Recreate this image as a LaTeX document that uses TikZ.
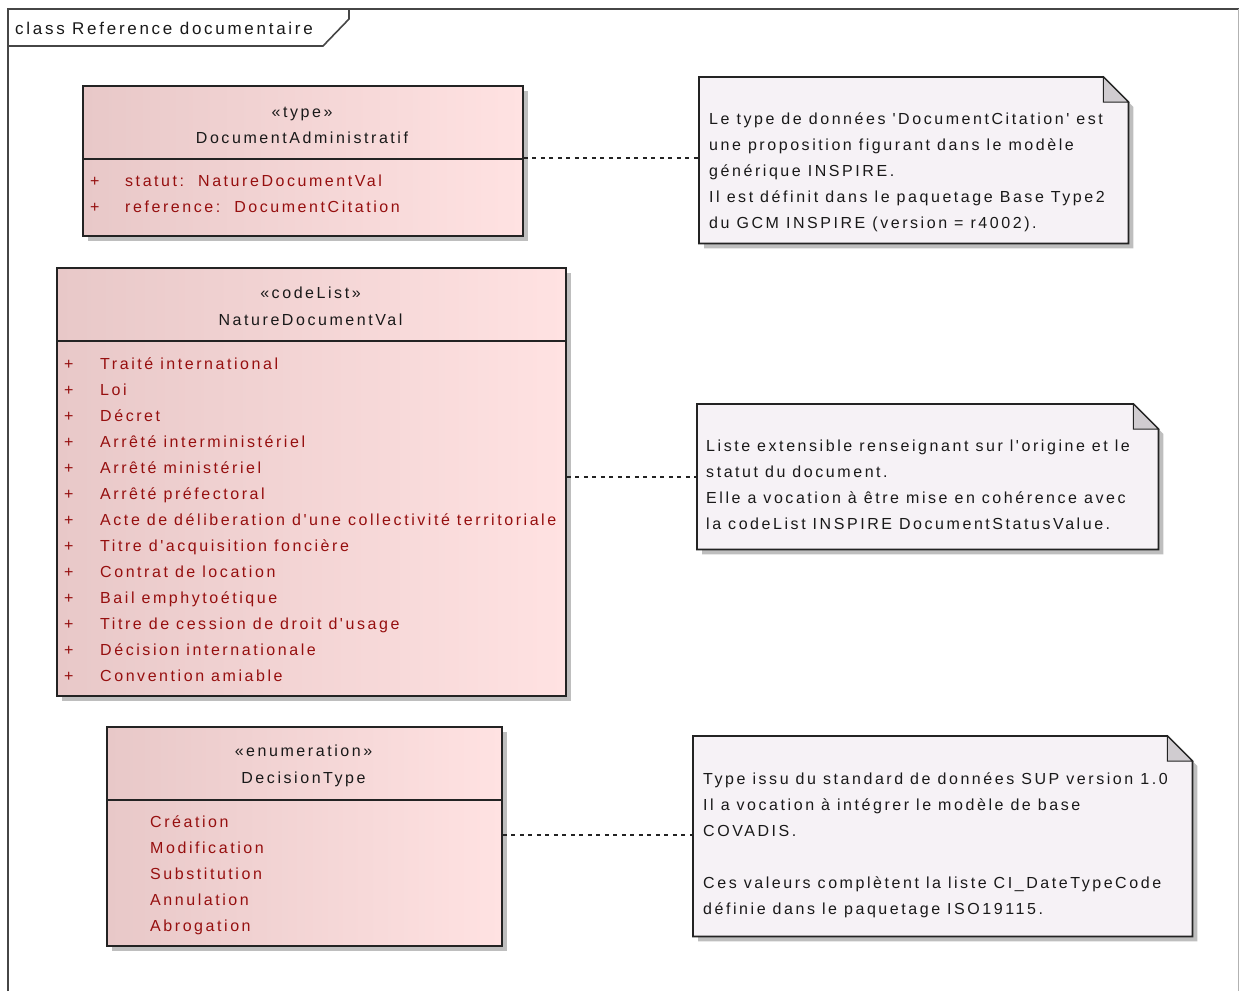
\documentclass[tikz,border=0pt]{standalone}
\usepackage{fontspec}
\setmainfont{Liberation Sans}
\newfontfamily\umlfont{Liberation Sans}[LetterSpace=16]
\usetikzlibrary{calc,shadows}
\definecolor{clsL}{RGB}{232,200,200}
\definecolor{clsR}{RGB}{255,226,226}
\definecolor{noteF}{RGB}{246,242,246}
\definecolor{foldF}{RGB}{208,204,208}
\definecolor{attr}{RGB}{150,15,15}
\definecolor{edge}{RGB}{35,35,35}
\definecolor{shad}{RGB}{190,190,190}
\definecolor{frameC}{RGB}{70,70,70}
\newcommand\umlnote[1]{%
  \fill[shad] ($(#1.north west)+(5,5)$) -- ($(#1.north east)+(-20,5)$) -- ($(#1.north east)+(5,30)$) -- ($(#1.south east)+(5,5)$) -- ($(#1.south west)+(5,5)$) -- cycle;
  \draw[edge, line width=1.8pt, fill=noteF] (#1.north west) -- ($(#1.north east)+(-25,0)$) -- ($(#1.north east)+(0,25)$) -- (#1.south east) -- (#1.south west) -- cycle;
  \draw[edge, line width=1pt, fill=foldF, line join=miter] ($(#1.north east)+(-25,0)$) -- ($(#1.north east)+(-25,25)$) -- ($(#1.north east)+(0,25)$) -- cycle;
}
\begin{document}
\begin{tikzpicture}[x=1pt,y=-1pt,
  txt/.style={inner sep=0pt, font=\umlfont\fontsize{16}{18}\selectfont, anchor=base west, text=black!90},
  attrtxt/.style={txt, text=attr},
  ctitle/.style={txt, anchor=base},
  classbox/.style={draw=edge, line width=1.8pt, left color=clsL, right color=clsR, anchor=north west, inner sep=0pt,
    drop shadow={shadow xshift=5pt, shadow yshift=-5pt, fill=shad, opacity=1}},
  notearea/.style={anchor=north west, inner sep=0pt},
  divider/.style={edge, line width=1.8pt},
  dashconn/.style={edge, line width=1.4pt, dash pattern=on 4pt off 4.5pt}
]
\useasboundingbox (0,0) rectangle (1239,991);
\fill[white] (0,0) rectangle (1239,991);

% frame
\draw[line width=1.6pt, frameC] (8,991) -- (8,9) -- (1239,9);
\draw[line width=1pt, gray!60] (1238,9) -- (1238,991);
\draw[line width=1.6pt, frameC] (8,46) -- (323,46) -- (349,19) -- (349,9);
\node[txt, font=\umlfont\fontsize{17}{19}\selectfont] (lbl) at (15,34) {class Reference documentaire};

% class DocumentAdministratif
\node[classbox, minimum width=440pt, minimum height=150pt] (c1) at (82,85) {};
\draw[divider] ($(c1.north west)+(0,74)$) -- ($(c1.north east)+(0,74)$);
\node[ctitle] (c1s) at (302,117) {«type»};
\node[ctitle] (c1n) at (302,143) {DocumentAdministratif};
\node[attrtxt] (c1p1) at (90,186) {+};
\node[attrtxt] (c1a1) at (125,186) {statut:\ \ NatureDocumentVal};
\node[attrtxt] (c1p2) at (90,212) {+};
\node[attrtxt] (c1a2) at (125,212) {reference:\ \ DocumentCitation};

% class NatureDocumentVal
\node[classbox, minimum width=509pt, minimum height=428pt] (c2) at (56,267) {};
\draw[divider] ($(c2.north west)+(0,74)$) -- ($(c2.north east)+(0,74)$);
\node[ctitle] (c2s) at (310.5,298) {«codeList»};
\node[ctitle] (c2n) at (310.5,325) {NatureDocumentVal};
\foreach \t [count=\i from 0] in {Traité international, Loi, Décret, Arrêté interministériel, Arrêté ministériel, Arrêté préfectoral, Acte de déliberation d'une collectivité territoriale, Titre d'acquisition foncière, Contrat de location, Bail emphytoétique, Titre de cession de droit d'usage, Décision internationale, Convention amiable} {
  \node[attrtxt] (c2p\i) at (64,369+26*\i) {+};
  \node[attrtxt] (c2a\i) at (100,369+26*\i) {\t};
}

% class DecisionType
\node[classbox, minimum width=395pt, minimum height=219pt] (c3) at (106,726) {};
\draw[divider] ($(c3.north west)+(0,74)$) -- ($(c3.north east)+(0,74)$);
\node[ctitle] (c3s) at (303.5,756) {«enumeration»};
\node[ctitle] (c3n) at (303.5,783) {DecisionType};
\foreach \t [count=\i from 0] in {Création, Modification, Substitution, Annulation, Abrogation} {
  \node[attrtxt] (c3a\i) at (150,827+26*\i) {\t};
}

% notes
\node[notearea, minimum width=429pt, minimum height=166pt] (n1) at (699,77) {};
\umlnote{n1}
\foreach \t [count=\i from 0] in {Le type de données 'DocumentCitation' est, une proposition figurant dans le modèle, générique INSPIRE., Il est définit dans le paquetage Base Type2, du GCM INSPIRE (version = r4002).} {
  \node[txt] (n1l\i) at (709,124+26*\i) {\t};
}

\node[notearea, minimum width=461pt, minimum height=145pt] (n2) at (697,404) {};
\umlnote{n2}
\foreach \t [count=\i from 0] in {Liste extensible renseignant sur l'origine et le, statut du document., Elle a vocation à être mise en cohérence avec, la codeList INSPIRE DocumentStatusValue.} {
  \node[txt] (n2l\i) at (706,451+26*\i) {\t};
}

\node[notearea, minimum width=499pt, minimum height=200pt] (n3) at (693,736) {};
\umlnote{n3}
\foreach \k/\t in {0/Type issu du standard de données SUP version 1.0, 1/Il a vocation à intégrer le modèle de base, 2/COVADIS., 4/Ces valeurs complètent la liste CI\_DateTypeCode, 5/définie dans le paquetage ISO19115.} {
  \node[txt] (n3l\k) at (703,784+26*\k) {\t};
}

% connectors
\coordinate (k1) at ($(c1.north east)+(0,73)$);
\draw[dashconn] (k1) -- (n1.west |- k1);
\coordinate (k2) at ($(c2.north east)+(0,210)$);
\draw[dashconn] (k2) -- (n2.west |- k2);
\coordinate (k3) at ($(c3.north east)+(0,109)$);
\draw[dashconn] (k3) -- (n3.west |- k3);
\end{tikzpicture}
\end{document}
